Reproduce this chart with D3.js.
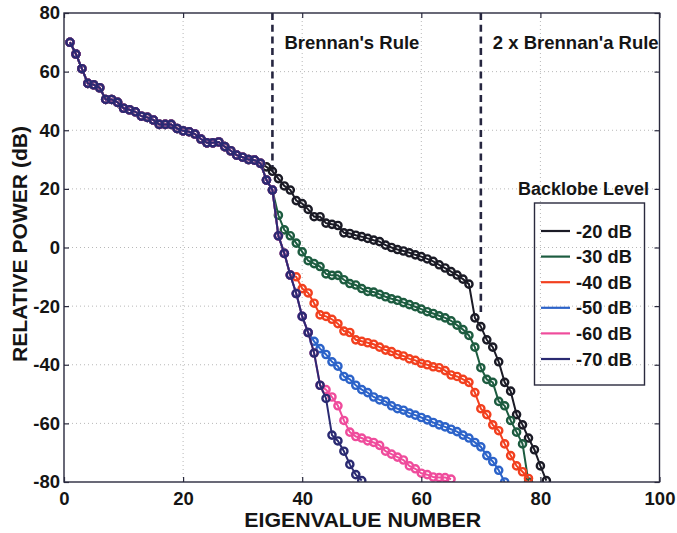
<!DOCTYPE html>
<html><head><meta charset="utf-8">
<script src="https://cdn.jsdelivr.net/npm/d3@7"></script>
<style>
body{margin:0;background:#fff}
svg text{font-family:"Liberation Sans",Arial,Helvetica,sans-serif;font-weight:bold;fill:#151515}
</style>
</head><body>
<svg id="chart" width="677" height="533"></svg>
<script>
// ---------- data ----------
const xTicks = [0, 20, 40, 60, 80, 100];
const yTicks = [-80, -60, -40, -20, 0, 20, 40, 60, 80];
const xLabel = "EIGENVALUE NUMBER";
const yLabel = "RELATIVE POWER (dB)";
const legendTitle = "Backlobe Level";
const seriesLabels = ["-20 dB", "-30 dB", "-40 dB", "-50 dB", "-60 dB", "-70 dB"];
const seriesColors = ["#1b1b26", "#1d5c40", "#f2401f", "#2c63c9", "#ef4c9c", "#2a2a72"];

// eigenvalues 1..33, common to every backlobe level
const sharedPower = [70, 66, 61, 56, 55.5, 54.5, 50.5, 50.5, 49.5, 47.5, 47, 46.3, 44.8, 44.4, 43.5, 42,
  42, 42, 40.6, 39.8, 39.5, 38.7, 37, 35.7, 35.7, 36, 34.4, 33, 31.5, 30.8, 30, 29.8, 28.7];
const tailStart = 34; // first eigenvalue of each tail below
const tail20 = [27.5, 26, 23.5, 21, 19.6, 16, 15, 13, 10.5, 10.5, 8.3, 7.9, 7.5, 5, 4.8, 4.2, 3.7, 3.1, 2.5, 2,
  0.8, 0, -0.7, -1.2, -1.8, -2.5, -3.1, -3.9, -4.7, -5.9, -7, -8.2, -9.4, -10.8, -12.5, -24, -27, -31.5, -34,
  -39, -46, -49, -57, -60.5, -65, -69, -74.5, -79.5];
const tail30 = [23, 19.6, 11, 6, 4, 1.5, -1.5, -4.5, -5.5, -6.5, -9, -9.5, -9.5, -11, -12.3, -12.8, -14, -15,
  -15.2, -16, -16.8, -17.5, -18, -18.8, -19.5, -20.2, -21, -21.9, -22.5, -23.3, -24, -25, -26.5, -28, -30, -34,
  -41, -45, -46, -52.5, -54, -59, -63, -67, -80];
const tail40 = [23, 19.6, 4, -2, -9.4, -10, -14, -15.5, -19, -23, -23.5, -24.5, -26, -28.5, -29, -31.5, -32,
  -32.5, -33, -34, -35, -35.5, -36.5, -37, -38, -38.5, -39.5, -40, -40.7, -41, -42, -43.5, -44, -45, -46, -49.5,
  -55, -57, -60.5, -62.5, -67, -71, -74.5, -76.5, -78.8];
const tail50 = [23, 19.6, 4, -2, -9.4, -15.7, -23.5, -29, -32, -34.5, -36.5, -39, -40.5, -44, -45, -47, -48.5,
  -49.5, -51, -52, -52.5, -54, -55, -55.5, -56.5, -57.2, -58, -58.8, -59.7, -60.5, -61.2, -62, -62.8, -64, -65,
  -66.5, -68, -71, -73, -76, -80];
const tail60 = [23, 19.6, 4, -2, -9.4, -15.7, -23.5, -29, -36, -47, -48.5, -51, -54, -59, -63, -64.5, -65, -66,
  -66.5, -67.5, -69.5, -70.5, -71.5, -72.5, -74.5, -75.5, -77, -77.5, -78.3, -78.5, -78.5, -79];
const tail70 = [23, 19.6, 4, -2, -9.4, -15.7, -23.5, -29, -36, -47, -51.5, -64, -66, -69.5, -74, -77.5, -79.5];
const seriesTails = [tail20, tail30, tail40, tail50, tail60, tail70];

// Brennan's-rule markers
const ruleEigen = [35, 70];
const ruleBottom = [26, -22];
const ruleLabels = ["Brennan's Rule", "2 x Brennan'a Rule"];

// ---------- layout ----------
const svg = d3.select("#chart");
const x = d3.scaleLinear().domain([0, 100]).range([64, 659.5]);
const y = d3.scaleLinear().domain([-80, 80]).range([482, 13]);
const axisColor = "#2a2a3e";

svg.append("defs").append("clipPath").attr("id", "plotclip")
  .append("rect").attr("x", x(0)).attr("y", y(80)).attr("width", x(100) - x(0)).attr("height", y(-80) - y(80));

// grid
const grid = svg.append("g");
grid.selectAll("line.gx").data(xTicks.slice(1, -1)).join("line")
  .attr("x1", d => x(d)).attr("x2", d => x(d)).attr("y1", y(80)).attr("y2", y(-80))
  .attr("stroke", "#b8b8b8").attr("stroke-width", 1).attr("stroke-dasharray", "1,3");
grid.selectAll("line.gy").data(yTicks.slice(1, -1)).join("line")
  .attr("y1", d => y(d)).attr("y2", d => y(d)).attr("x1", x(0)).attr("x2", x(100))
  .attr("stroke", "#b8b8b8").attr("stroke-width", 1).attr("stroke-dasharray", "1,3");

// rule lines and labels
const plot = svg.append("g").attr("clip-path", "url(#plotclip)");
ruleEigen.forEach((n, i) => {
  plot.append("line").attr("x1", x(n)).attr("x2", x(n)).attr("y1", y(80)).attr("y2", y(ruleBottom[i]))
    .attr("stroke", "#262640").attr("stroke-width", 2.6).attr("stroke-dasharray", "7,4.7");
  plot.append("text").attr("x", x(n) + 12).attr("y", 48.5).attr("font-size", 18.5).text(ruleLabels[i]);
});

// series
const line = d3.line().x(d => x(d.n)).y(d => y(d.v));
seriesTails.forEach((tail, i) => {
  const vals = sharedPower.concat(tail);
  const pts = vals.map((v, k) => ({n: k + 1, v}));
  const g = plot.append("g");
  g.append("path").datum(pts).attr("d", line).attr("fill", "none")
    .attr("stroke", seriesColors[i]).attr("stroke-width", 2);
  g.selectAll("circle").data(pts).join("circle")
    .attr("cx", d => x(d.n)).attr("cy", d => y(d.v)).attr("r", 3.6)
    .attr("fill", "none").attr("stroke", seriesColors[i]).attr("stroke-width", 2.4);
});

// axes
const fmt = d => String(d);
function styleAxis(g) {
  g.attr("font-size", null).attr("font-family", null);
  g.selectAll(".domain").remove();
  g.selectAll(".tick line").attr("stroke", axisColor).attr("stroke-width", 1.2);
  g.selectAll(".tick text").attr("font-size", 18.5).attr("fill", "#151515");
}
svg.append("g").attr("transform", `translate(0,${y(-80)})`)
  .call(d3.axisBottom(x).tickValues(xTicks).tickSizeInner(-5).tickSizeOuter(0).tickPadding(10).tickFormat(fmt))
  .call(styleAxis);
svg.append("g").attr("transform", `translate(0,${y(80)})`)
  .call(d3.axisTop(x).tickValues(xTicks).tickSizeInner(-5).tickSizeOuter(0).tickFormat(""))
  .call(styleAxis);
svg.append("g").attr("transform", `translate(${x(0)},0)`)
  .call(d3.axisLeft(y).tickValues(yTicks).tickSizeInner(-5).tickSizeOuter(0).tickPadding(4).tickFormat(fmt))
  .call(styleAxis);
svg.append("g").attr("transform", `translate(${x(100)},0)`)
  .call(d3.axisRight(y).tickValues(yTicks).tickSizeInner(-5).tickSizeOuter(0).tickFormat(""))
  .call(styleAxis);

svg.append("rect").attr("x", x(0)).attr("y", y(80)).attr("width", x(100) - x(0)).attr("height", y(-80) - y(80))
  .attr("fill", "none").attr("stroke", axisColor).attr("stroke-width", 1.4);

// axis labels
svg.append("text").attr("x", (x(0) + x(100)) / 2 + 1).attr("y", 526.5).attr("text-anchor", "middle")
  .attr("font-size", 20).attr("textLength", 237).attr("lengthAdjust", "spacingAndGlyphs").text(xLabel);
svg.append("text").attr("transform", "translate(26.5,244) rotate(-90)").attr("text-anchor", "middle")
  .attr("font-size", 20).attr("textLength", 236).attr("lengthAdjust", "spacingAndGlyphs").text(yLabel);

// legend
svg.append("text").attr("x", 518).attr("y", 195).attr("font-size", 18).text(legendTitle);
const lg = svg.append("g");
lg.append("rect").attr("x", 534.5).attr("y", 203).attr("width", 110).attr("height", 182)
  .attr("fill", "none").attr("stroke", axisColor).attr("stroke-width", 1.4);
seriesLabels.forEach((lab, i) => {
  const ly = 231 + i * 25.6;
  lg.append("line").attr("x1", 541).attr("x2", 570).attr("y1", ly).attr("y2", ly)
    .attr("stroke", seriesColors[i]).attr("stroke-width", 2.2);
  lg.append("text").attr("x", 576).attr("y", ly + 6.5).attr("font-size", 18.3).text(lab);
});
</script>
</body></html>
